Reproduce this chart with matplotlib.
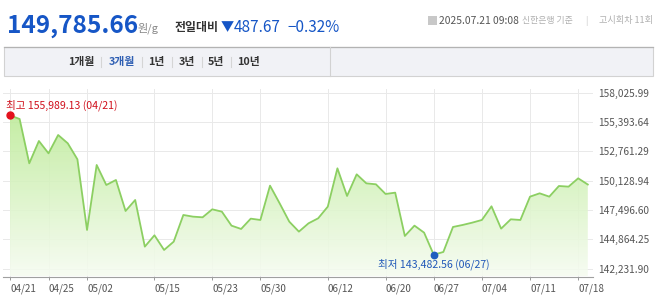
import numpy as np
import matplotlib
matplotlib.use("Agg")
import matplotlib.pyplot as plt
from matplotlib.patches import Rectangle, Polygon
from matplotlib.lines import Line2D
from matplotlib.colors import LinearSegmentedColormap
from matplotlib.transforms import ScaledTranslation

plt.rcParams['font.family'] = ['Noto Sans CJK KR', 'DejaVu Sans']

# trading days (3 months) and gold price, won per gram
dates = ["04/21", "04/22", "04/23", "04/24", "04/25", "04/28", "04/29", "04/30", "05/02",
         "05/07", "05/08", "05/09", "05/12", "05/13", "05/14", "05/15", "05/16", "05/19",
         "05/20", "05/21", "05/22", "05/23", "05/26", "05/27", "05/28", "05/29", "05/30",
         "06/02", "06/04", "06/05", "06/09", "06/10", "06/11", "06/12", "06/13", "06/16",
         "06/17", "06/18", "06/19", "06/20", "06/23", "06/24", "06/25", "06/26", "06/27",
         "06/30", "07/01", "07/02", "07/03", "07/04", "07/07", "07/08", "07/09", "07/10",
         "07/11", "07/14", "07/15", "07/16", "07/17", "07/18", "07/21"]
prices = [155989.13, 155666, 151688, 153692, 152585, 154230, 153483, 152047, 145706,
          151539, 149744, 150193, 147411, 148398, 144210, 145228, 143911, 144659,
          147052, 146902, 146843, 147560, 147351, 146095, 145796, 146723, 146603,
          149684, 148099, 146454, 145557, 146304, 146753, 147800, 151239, 148757,
          150701, 149893, 149804, 148936, 149056, 145168, 146095, 145467, 143482.56,
          143732, 145975, 146155, 146364, 146603, 147830, 145826, 146663, 146603,
          148697, 148996, 148697, 149654, 149594, 150342, 149785.66]
tick_dates = ["04/21", "04/25", "05/02", "05/15", "05/23", "05/30", "06/12",
              "06/20", "06/27", "07/04", "07/11", "07/18"]
y_ticks = [142231.90, 144864.25, 147496.60, 150128.94, 152761.29, 155393.64, 158025.99]
tabs = ["1개월", "3개월", "1년", "3년", "5년", "10년"]

W, H = 658, 303
fig = plt.figure(figsize=(W / 100, H / 100), dpi=100)


def fx(x):
    return x / W


def fy(y):
    return 1 - y / H


blue = '#1656c6'

# header
fig.text(fx(7), fy(33), "149,785.66", fontsize=17.6, weight='bold', color=blue, va='baseline')
fig.text(fx(138), fy(31.5), "원/g", fontsize=8, color='#888888', va='baseline')
fig.text(fx(175), fy(31.5), "전일대비", fontsize=8.6, weight='bold', color='#333333', va='baseline')
fig.text(fx(221), fy(31.5), "▼", fontsize=9.5, color=blue, va='baseline')
fig.text(fx(234), fy(32), "487.67", fontsize=11, weight='medium', color=blue, va='baseline')
fig.text(fx(287), fy(32), "−0.32%", fontsize=11, weight='medium', color=blue, va='baseline')

fig.add_artist(Rectangle((fx(428), fy(25)), 9 / W, 9 / H, transform=fig.transFigure,
                         facecolor='#c8c8c8', edgecolor='none'))
fig.text(fx(439), fy(20.5), "2025.07.21 09:08", fontsize=7.4, color='#555555', va='center')
fig.text(fx(522), fy(20.5), "신한은행 기준", fontsize=6.4, color='#b0b0b0', va='center')
fig.text(fx(586), fy(20.5), "|", fontsize=6.4, color='#cccccc', va='center', ha='center')
fig.text(fx(653), fy(20.5), "고시회차 11회", fontsize=6.6, color='#b0b0b0', va='center', ha='right')

# tab bar
fig.add_artist(Rectangle((fx(4), fy(76)), 649 / W, 29 / H, transform=fig.transFigure,
                         facecolor='#f1f2f6', edgecolor='#d2d2d2', lw=0.8))
fig.add_artist(Line2D([fx(4), fx(653)], [fy(47), fy(47)], transform=fig.transFigure,
                      color='#b3b3b3', lw=0.9))
fig.add_artist(Line2D([fx(330), fx(330)], [fy(47), fy(76)], transform=fig.transFigure,
                      color='#d2d2d2', lw=0.8))
tab_x = [81.5, 121.5, 156.5, 186.5, 216, 248.5]
for i, t in enumerate(tabs):
    fig.text(fx(tab_x[i]), fy(62), t, fontsize=7.8, weight='bold', ha='center', va='center',
             color='#2f5fb3' if t == "3개월" else '#333333')
for sx in [101, 141.5, 171.5, 201.5, 231.5]:
    fig.add_artist(Line2D([fx(sx), fx(sx)], [fy(57), fy(67)], transform=fig.transFigure,
                          color='#d5d5d5', lw=0.8))

# chart
x = np.arange(len(prices))
vals = np.array(prices)
y_bot, y_top = 141530, 158358

ax = fig.add_axes([fx(3), fy(276.5), 590 / W, (276.5 - 89) / H])
ax.set_xlim(-0.727, 60.54)
ax.set_ylim(y_bot, y_top)

tick_idx = [dates.index(d) for d in tick_dates]
ax.set_xticks(tick_idx)
ax.set_xticklabels(tick_dates)
shift = ScaledTranslation(-2 / 100, 0, fig.dpi_scale_trans)
for lab in ax.get_xticklabels():
    lab.set_ha('left')
    lab.set_transform(lab.get_transform() + shift)
ax.set_yticks(y_ticks)
ax.set_yticklabels([f"{v:,.2f}" for v in y_ticks])
ax.yaxis.tick_right()
ax.tick_params(axis='y', length=0, pad=3.6, labelsize=7.3, labelcolor='#555555')
ax.tick_params(axis='x', length=2.2, width=0.7, color='#999999', pad=2.5,
               labelsize=7.1, labelcolor='#555555')
for s in ['top', 'left', 'right']:
    ax.spines[s].set_visible(False)
ax.spines['bottom'].set_color('#a0a0a0')
ax.spines['bottom'].set_linewidth(0.8)
ax.grid(True, color='#e9e9e9', lw=0.7)
ax.set_axisbelow(True)

# gradient fill under the line
cmap = LinearSegmentedColormap.from_list('g', ['#f6fcf1', '#bdeb98'])
grad = np.linspace(0, 1, 256).reshape(-1, 1)
im = ax.imshow(grad, extent=[x[0], x[-1], y_bot, vals.max()], aspect='auto', origin='lower',
               cmap=cmap, alpha=0.88, zorder=1)
verts = np.column_stack([np.r_[x[0], x, x[-1]], np.r_[y_bot, vals, y_bot]])
clip = Polygon(verts, closed=True, facecolor='none', edgecolor='none')
ax.add_patch(clip)
im.set_clip_path(clip)

ax.plot(x, vals, color='#8ccf62', lw=1.3, zorder=3)

hi = int(np.argmax(vals))
lo = int(np.argmin(vals))
ax.plot(hi, vals[hi], 'o', color='#e3121d', ms=5, zorder=4)
ax.plot(lo, vals[lo], 'o', color='#1f5fbf', ms=4.6, zorder=4)
ax.annotate(f"최고 {vals[hi]:,.2f} ({dates[hi]})", (hi, vals[hi]), xytext=(-2.6, 7),
            textcoords='offset points', ha='left', va='center', fontsize=7.6, color='#d0101c')
ax.annotate(f"최저 {vals[lo]:,.2f} ({dates[lo]})", (lo, vals[lo]), xytext=(0, -6.6),
            textcoords='offset points', ha='center', va='center', fontsize=7.6, color='#2058b8')

fig.savefig("out.png", dpi=100)
